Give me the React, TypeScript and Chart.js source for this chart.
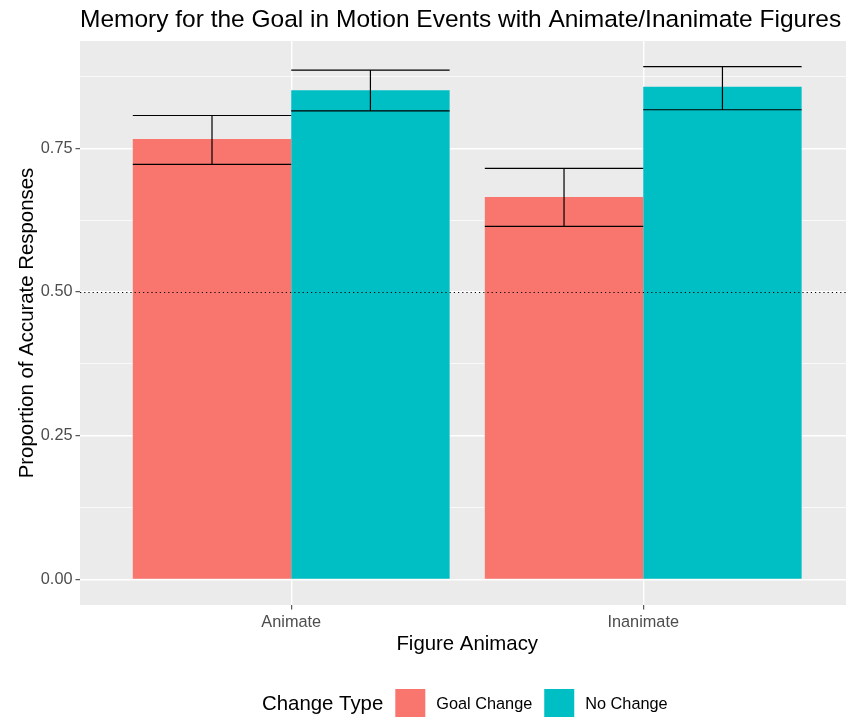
import React, { useEffect, useRef } from "react";
import { Chart, registerables } from "chart.js";

Chart.register(...registerables);

const TITLE = "Memory for the Goal in Motion Events with Animate/Inanimate Figures";
const X_TITLE = "Figure Animacy";
const Y_TITLE = "Proportion of Accurate Responses";
const LEGEND_TITLE = "Change Type";

const CATEGORIES = ["Animate", "Inanimate"];
const SERIES = ["Goal Change", "No Change"];
const COLORS = ["#F8766D", "#00BFC4"];

const GOAL_CHANGE = [0.766, 0.665];
const NO_CHANGE = [0.851, 0.857];
const GOAL_CHANGE_LOWER = [0.722, 0.614];
const GOAL_CHANGE_UPPER = [0.807, 0.715];
const NO_CHANGE_LOWER = [0.815, 0.817];
const NO_CHANGE_UPPER = [0.886, 0.892];

const Y_MAJOR_TICKS = [0, 0.25, 0.5, 0.75];
const Y_MINOR_TICKS = [0.125, 0.375, 0.625, 0.875];
const REFERENCE_LINE = 0.5;

const X_MIN = 0.4;
const X_MAX = 2.576;

const FONT = "'Liberation Sans', Arial, Helvetica, sans-serif";
const W = 846;
const H = 717;

const VALUES = [GOAL_CHANGE, NO_CHANGE];
const LOWERS = [GOAL_CHANGE_LOWER, NO_CHANGE_LOWER];
const UPPERS = [GOAL_CHANGE_UPPER, NO_CHANGE_UPPER];

const maxUpper = Math.max(...UPPERS.flat());
const Y_MAX = maxUpper * 1.05;
const Y_MIN = -maxUpper * 0.05;

const isMajor = (v: number) => Y_MAJOR_TICKS.some((t) => Math.abs(t - v) < 1e-9);

const overlayPlugin = {
  id: "ggOverlay",
  beforeDraw(chart: any) {
    const { ctx, chartArea } = chart;
    ctx.save();
    ctx.fillStyle = "#FFFFFF";
    ctx.fillRect(0, 0, chart.width, chart.height);
    ctx.fillStyle = "#EBEBEB";
    ctx.fillRect(chartArea.left, chartArea.top, chartArea.right - chartArea.left, chartArea.bottom - chartArea.top);
    ctx.restore();
  },
  afterDatasetsDraw(chart: any) {
    const { ctx, chartArea, scales } = chart;
    const yS = scales.y;
    ctx.save();
    const yr = Math.round(yS.getPixelForValue(REFERENCE_LINE)) + 0.5;
    ctx.strokeStyle = "#000000";
    ctx.lineWidth = 1.1;
    ctx.setLineDash([1.2, 3]);
    ctx.beginPath();
    ctx.moveTo(chartArea.left, yr);
    ctx.lineTo(chartArea.right, yr);
    ctx.stroke();
    ctx.setLineDash([]);
    ctx.lineWidth = 1.2;
    for (let i = 0; i < VALUES.length; i++) {
      const meta = chart.getDatasetMeta(i);
      meta.data.forEach((el: any, j: number) => {
        const half = el.width / 2;
        const yu = yS.getPixelForValue(UPPERS[i][j]);
        const yl = yS.getPixelForValue(LOWERS[i][j]);
        ctx.beginPath();
        ctx.moveTo(el.x - half, yu);
        ctx.lineTo(el.x + half, yu);
        ctx.moveTo(el.x, yu);
        ctx.lineTo(el.x, yl);
        ctx.moveTo(el.x - half, yl);
        ctx.lineTo(el.x + half, yl);
        ctx.stroke();
      });
    }
    ctx.restore();
  },
  afterDraw(chart: any) {
    const { ctx, chartArea, scales } = chart;
    ctx.save();
    ctx.fillStyle = "#000000";
    ctx.font = `24.5px ${FONT}`;
    ctx.textAlign = "left";
    ctx.textBaseline = "alphabetic";
    ctx.fillText(TITLE, chartArea.left, 27);
    ctx.font = `20.4px ${FONT}`;
    ctx.textAlign = "center";
    const xMid = (scales.x.getPixelForValue(1) + scales.x.getPixelForValue(CATEGORIES.length)) / 2;
    ctx.fillText(X_TITLE, xMid, 650);
    ctx.save();
    ctx.translate(33, (chartArea.top + chartArea.bottom) / 2);
    ctx.rotate(-Math.PI / 2);
    ctx.fillText(Y_TITLE, 0, 0);
    ctx.restore();
    const keySize = 30;
    const keyTop = 689;
    let x = 262;
    ctx.textAlign = "left";
    ctx.font = `20.4px ${FONT}`;
    ctx.fillText(LEGEND_TITLE, x, 710);
    x += ctx.measureText(LEGEND_TITLE).width + 12;
    ctx.font = `16.3px ${FONT}`;
    SERIES.forEach((s, i) => {
      ctx.fillStyle = COLORS[i];
      ctx.fillRect(x, keyTop, keySize, keySize);
      x += keySize + 11;
      ctx.fillStyle = "#000000";
      ctx.fillText(s, x, 708.5);
      x += ctx.measureText(s).width + 12;
    });
    ctx.restore();
  },
};

export default function App() {
  const ref = useRef<HTMLCanvasElement | null>(null);
  useEffect(() => {
    if (!ref.current) return;
    const chart = new Chart(ref.current, {
      type: "bar",
      data: {
        datasets: SERIES.map((name, i) => ({
          label: name,
          data: CATEGORIES.map((_, j) => ({ x: j + 1, y: VALUES[i][j] })),
          backgroundColor: COLORS[i],
          borderWidth: 0,
          categoryPercentage: 0.9,
          barPercentage: 1.0,
        })),
      },
      options: {
        animation: false,
        responsive: false,
        devicePixelRatio: 1,
        layout: { padding: { top: 41, left: 0, right: 0, bottom: 0 } },
        plugins: {
          legend: { display: false },
          title: { display: false },
          tooltip: { enabled: false },
        },
        scales: {
          x: {
            type: "linear",
            min: X_MIN,
            max: X_MAX,
            offset: false,
            afterBuildTicks: (scale: any) => {
              scale.ticks = CATEGORIES.map((_, j) => ({ value: j + 1 }));
            },
            afterFit: (scale: any) => {
              scale.height = H - 605;
            },
            ticks: {
              callback: (v: any) => CATEGORIES[Math.round(Number(v)) - 1] ?? "",
              color: "#4D4D4D",
              font: { family: FONT, size: 16.3 },
              padding: 3,
              maxRotation: 0,
              autoSkip: false,
            },
            grid: {
              offset: false,
              color: "#FFFFFF",
              lineWidth: 1.4,
              tickColor: "#333333",
              tickLength: 4.5,
              tickWidth: 1,
            },
            border: { display: false },
          },
          y: {
            type: "linear",
            min: Y_MIN,
            max: Y_MAX,
            afterBuildTicks: (scale: any) => {
              scale.ticks = [...Y_MAJOR_TICKS, ...Y_MINOR_TICKS]
                .sort((a, b) => a - b)
                .map((v) => ({ value: v }));
            },
            afterFit: (scale: any) => {
              scale.width = 80;
            },
            ticks: {
              callback: (v: any) => (isMajor(Number(v)) ? Number(v).toFixed(2) : ""),
              color: "#4D4D4D",
              font: { family: FONT, size: 16.3 },
              padding: 3,
              autoSkip: false,
            },
            grid: {
              color: "#FFFFFF",
              lineWidth: (c: any) => (isMajor(c.tick?.value) ? 1.4 : 0.7),
              tickColor: (c: any) => (isMajor(c.tick?.value) ? "#333333" : "rgba(0,0,0,0)"),
              tickLength: 4.5,
              tickWidth: 1,
            },
            border: { display: false },
          },
        },
      },
      plugins: [overlayPlugin],
    } as any);
    return () => chart.destroy();
  }, []);
  return (
    <div style={{ position: "fixed", left: 0, top: 0, width: W, height: H, background: "#fff" }}>
      <canvas ref={ref} width={W} height={H} style={{ display: "block", width: W, height: H }} />
    </div>
  );
}
